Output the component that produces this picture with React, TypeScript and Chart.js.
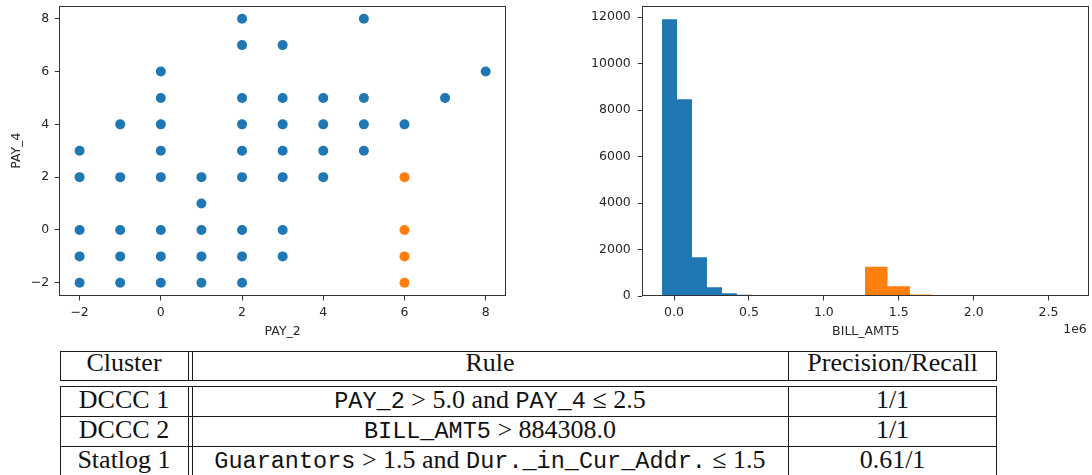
import React, { useEffect, useRef } from 'react';
import { Chart, registerables } from 'chart.js';

Chart.register(...registerables);

// ---------- data ----------
const PAY2_BLUE = [
  -2, -2, -2, -2, -2,
  -1, -1, -1, -1, -1,
  0, 0, 0, 0, 0, 0, 0, 0,
  1, 1, 1, 1, 1,
  2, 2, 2, 2, 2, 2, 2, 2, 2,
  3, 3, 3, 3, 3, 3, 3,
  4, 4, 4, 4,
  5, 5, 5, 5,
  6,
  7,
  8,
];
const PAY4_BLUE = [
  3, 2, 0, -1, -2,
  4, 2, 0, -1, -2,
  6, 5, 4, 3, 2, 0, -1, -2,
  2, 1, 0, -1, -2,
  8, 7, 5, 4, 3, 2, 0, -1, -2,
  7, 5, 4, 3, 2, 0, -1,
  5, 4, 3, 2,
  8, 5, 4, 3,
  4,
  5,
  6,
];
const PAY2_ORANGE = [6, 6, 6, 6];
const PAY4_ORANGE = [2, 0, -1, -2];

const SCATTER_X_TICKS = [-2, 0, 2, 4, 6, 8];
const SCATTER_Y_TICKS = [-2, 0, 2, 4, 6, 8];

const BLUE_BIN_EDGES = [-80000, 20000, 120000, 220000, 320000, 420000, 520000];
const BLUE_BIN_COUNTS = [11910, 8470, 1670, 375, 115, 55];
const ORANGE_BIN_EDGES = [1275000, 1425000, 1575000, 1725000];
const ORANGE_BIN_COUNTS = [1260, 420, 62];

const HIST_X_TICKS = [0, 500000, 1000000, 1500000, 2000000, 2500000];
const HIST_Y_TICKS = [0, 2000, 4000, 6000, 8000, 10000, 12000];
const HIST_X_EXPONENT = '1e6';

const TABLE_HEADERS = ['Cluster', 'Rule', 'Precision/Recall'];
const TABLE_CLUSTERS = ['DCCC 1', 'DCCC 2', 'Statlog 1'];
const TABLE_RULES: { t: string; mono?: boolean }[][] = [
  [{ t: 'PAY_2', mono: true }, { t: ' > 5.0 and ' }, { t: 'PAY_4', mono: true }, { t: ' \u2264 2.5' }],
  [{ t: 'BILL_AMT5', mono: true }, { t: ' > 884308.0' }],
  [{ t: 'Guarantors', mono: true }, { t: ' > 1.5 and ' }, { t: 'Dur._in_Cur_Addr.', mono: true }, { t: ' \u2264 1.5' }],
];
const TABLE_PREC = ['1/1', '1/1', '0.61/1'];

// ---------- styles ----------
const BLUE = '#1f77b4';
const ORANGE = '#ff7f0e';
const TEXT = '#262626';
const SPINE = '#333333';
const FONT = { family: 'DejaVu Sans', size: 12.5 };

const framePlugin = {
  id: 'frame',
  afterDraw(chart: any) {
    const { ctx, chartArea: a } = chart;
    ctx.save();
    ctx.strokeStyle = SPINE;
    ctx.lineWidth = 1;
    const l = Math.round(a.left) + 0.5;
    const r = Math.round(a.right) - 0.5;
    const t = Math.round(a.top) + 0.5;
    const b = Math.round(a.bottom) - 0.5;
    ctx.strokeRect(l, t, r - l, b - t);
    ctx.restore();
  },
};

const offsetTextPlugin = {
  id: 'offsetText',
  afterDraw(chart: any) {
    const { ctx, chartArea } = chart;
    ctx.save();
    ctx.font = `${FONT.size}px "${FONT.family}"`;
    ctx.fillStyle = TEXT;
    ctx.textAlign = 'right';
    ctx.textBaseline = 'middle';
    ctx.fillText(HIST_X_EXPONENT, chartArea.right - 2.5, chartArea.bottom + 34);
    ctx.restore();
  },
};

const minusFmt = (v: number) => (v < 0 ? '\u2212' + Math.abs(v) : String(v));

function axis(opts: {
  min: number; max: number; ticks: number[]; fmt: (v: number) => string;
  pad: number; title?: string; titlePad?: any; fit: (s: any) => void;
}) {
  return {
    type: 'linear',
    min: opts.min,
    max: opts.max,
    afterBuildTicks: (ax: any) => { ax.ticks = opts.ticks.map((v) => ({ value: v })); },
    afterFit: (s: any) => {
      opts.fit(s);
      s.paddingTop = 0; s.paddingBottom = 0; s.paddingLeft = 0; s.paddingRight = 0;
    },
    grid: { display: true, drawOnChartArea: false, drawTicks: true, tickLength: 4.5, tickColor: SPINE, tickWidth: 1 },
    border: { display: false },
    ticks: {
      color: TEXT, font: FONT, padding: opts.pad, maxRotation: 0, minRotation: 0, autoSkip: false,
      includeBounds: false,
      callback: (v: any) => opts.fmt(Number(v)),
    },
    title: opts.title
      ? { display: true, text: opts.title, color: TEXT, font: FONT, padding: opts.titlePad }
      : { display: false },
  };
}

function ScatterChart() {
  const ref = useRef<HTMLCanvasElement>(null);
  useEffect(() => {
    const chart = new Chart(ref.current as HTMLCanvasElement, {
      type: 'scatter',
      data: {
        datasets: [
          {
            data: PAY2_BLUE.map((x, i) => ({ x, y: PAY4_BLUE[i] })),
            backgroundColor: BLUE, borderWidth: 0, pointRadius: 5, pointHoverRadius: 5,
          },
          {
            data: PAY2_ORANGE.map((x, i) => ({ x, y: PAY4_ORANGE[i] })),
            backgroundColor: ORANGE, borderWidth: 0, pointRadius: 5, pointHoverRadius: 5,
          },
        ],
      },
      options: {
        animation: false,
        responsive: false,
        devicePixelRatio: 1,
        layout: { padding: { top: 5.5, right: 14, left: 0, bottom: 0 } },
        plugins: { legend: { display: false }, tooltip: { enabled: false } },
        events: [],
        scales: {
          x: axis({
            min: -2.5, max: 8.5, ticks: SCATTER_X_TICKS, fmt: minusFmt, pad: 4.5,
            title: 'PAY_2', titlePad: { top: 0, bottom: 5.5 },
            fit: (s: any) => { s.height = 49; },
          }),
          y: axis({
            min: -2.5, max: 8.5, ticks: SCATTER_Y_TICKS, fmt: minusFmt, pad: 5.5,
            title: 'PAY_4', titlePad: { top: 9, bottom: 0 },
            fit: (s: any) => { s.width = 59.3; },
          }),
        } as any,
      },
      plugins: [framePlugin],
    } as any);
    return () => chart.destroy();
  }, []);
  return (
    <canvas ref={ref} width={520} height={345}
      style={{ position: 'absolute', left: 0, top: 0, width: 520, height: 345 }} />
  );
}

const steps = (edges: number[], counts: number[]) =>
  edges.map((e, i) => ({ x: e, y: i < counts.length ? counts[i] : 0 }));

function HistChart() {
  const ref = useRef<HTMLCanvasElement>(null);
  useEffect(() => {
    const chart = new Chart(ref.current as HTMLCanvasElement, {
      type: 'line',
      data: {
        datasets: [
          {
            data: steps(BLUE_BIN_EDGES, BLUE_BIN_COUNTS), stepped: true, fill: 'origin',
            backgroundColor: BLUE, borderColor: 'rgba(0,0,0,0)', borderWidth: 0, pointRadius: 0, tension: 0,
          },
          {
            data: steps(ORANGE_BIN_EDGES, ORANGE_BIN_COUNTS), stepped: true, fill: 'origin',
            backgroundColor: ORANGE, borderColor: 'rgba(0,0,0,0)', borderWidth: 0, pointRadius: 0, tension: 0,
          },
        ],
      },
      options: {
        animation: false,
        responsive: false,
        devicePixelRatio: 1,
        layout: { padding: { top: 5.5, right: 2.7, left: 0, bottom: 0 } },
        plugins: { legend: { display: false }, tooltip: { enabled: false } },
        events: [],
        scales: {
          x: axis({
            min: -211600, max: 2772000, ticks: HIST_X_TICKS, fmt: (v) => (v / 1e6).toFixed(1), pad: 4.5,
            title: 'BILL_AMT5', titlePad: { top: 0, bottom: 5.5 },
            fit: (s: any) => { s.height = 49; },
          }),
          y: axis({
            min: 0, max: 12500, ticks: HIST_Y_TICKS, fmt: (v) => String(v), pad: 7,
            fit: (s: any) => { s.width = 82.3; },
          }),
        } as any,
      },
      plugins: [framePlugin, offsetTextPlugin],
    } as any);
    return () => chart.destroy();
  }, []);
  return (
    <canvas ref={ref} width={532} height={345}
      style={{ position: 'absolute', left: 560, top: 0, width: 532, height: 345 }} />
  );
}

// ---------- table ----------
const LINE = '#1a1a1a';
const SERIF = '"Liberation Serif", "Times New Roman", serif';
const MONO = '"Liberation Mono", "DejaVu Sans Mono", monospace';
const COLS = [60, 188, 192, 788, 996];
const CELL_SPANS: [number, number][] = [[60, 188], [192, 788], [788, 997]];

function HLine({ y, x1, x2 }: { y: number; x1: number; x2: number }) {
  return <div style={{ position: 'absolute', left: x1, top: y, width: x2 - x1 + 1, height: 1, background: LINE }} />;
}
function VLine({ x, y1, y2 }: { x: number; y1: number; y2: number }) {
  return <div style={{ position: 'absolute', left: x, top: y1, width: 1, height: y2 - y1 + 1, background: LINE }} />;
}

function Cell({ span, top, children }: { span: [number, number]; top: number; children: React.ReactNode }) {
  return (
    <div style={{
      position: 'absolute', left: span[0], top, width: span[1] - span[0], height: 30,
      lineHeight: '30px', fontSize: 26, fontFamily: SERIF, color: '#111', textAlign: 'center', whiteSpace: 'nowrap',
    }}>{children}</div>
  );
}

function RulesTable() {
  const headerTop = 348;
  const rowTops = [384.5, 414.5, 444.5];
  return (
    <>
      <HLine y={351} x1={60} x2={996} />
      <HLine y={380} x1={60} x2={996} />
      {COLS.map((x) => <VLine key={'h' + x} x={x} y1={351} y2={380} />)}
      <HLine y={386} x1={60} x2={996} />
      <HLine y={416} x1={60} x2={996} />
      <HLine y={446} x1={60} x2={996} />
      <HLine y={476} x1={60} x2={996} />
      {COLS.map((x) => <VLine key={'b' + x} x={x} y1={386} y2={476} />)}
      {TABLE_HEADERS.map((h, i) => <Cell key={h} span={CELL_SPANS[i]} top={headerTop}>{h}</Cell>)}
      {TABLE_CLUSTERS.map((c, r) => (
        <React.Fragment key={c}>
          <Cell span={CELL_SPANS[0]} top={rowTops[r]}>{c}</Cell>
          <Cell span={CELL_SPANS[1]} top={rowTops[r]}>
            {TABLE_RULES[r].map((p, k) => p.mono
              ? <span key={k} style={{ fontFamily: MONO, fontSize: 23.5 }}>{p.t}</span>
              : <span key={k} style={{ whiteSpace: 'pre' }}>{p.t}</span>)}
          </Cell>
          <Cell span={CELL_SPANS[2]} top={rowTops[r]}>{TABLE_PREC[r]}</Cell>
        </React.Fragment>
      ))}
    </>
  );
}

export default function App() {
  return (
    <div style={{ position: 'fixed', left: 0, top: 0, width: 1092, height: 475, overflow: 'hidden', background: '#fff' }}>
      <ScatterChart />
      <HistChart />
      <RulesTable />
    </div>
  );
}
